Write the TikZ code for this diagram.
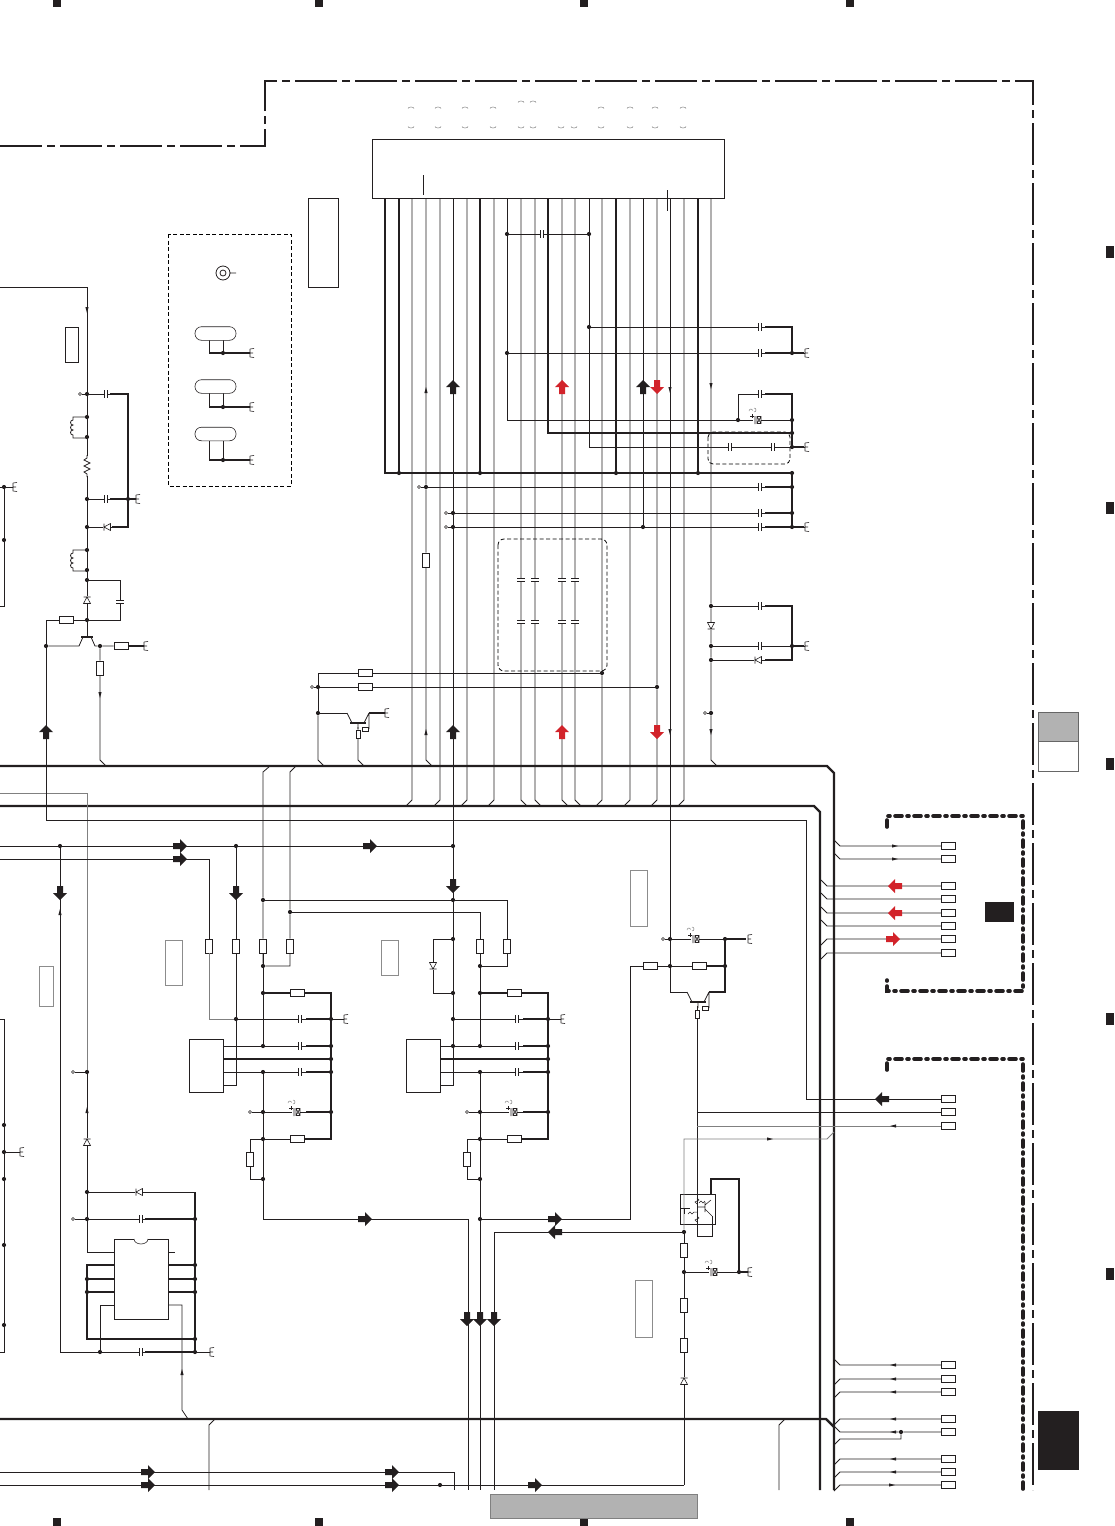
\documentclass[tikz,border=0pt]{standalone}
\usepackage{amsmath, amssymb}
\usetikzlibrary{arrows.meta}
\tikzset{>=stealth}
\definecolor{inkblack}{HTML}{231F20}
\definecolor{markred}{HTML}{D2232A}
\definecolor{panelgray}{HTML}{B2B2B2}
\tikzset{
	wire/.style = {line width = 0.8pt, color = inkblack},
	pale/.style = {line width = 0.8pt, color = black!50},
	thk/.style = {line width = 1.7pt, color = inkblack},
	busline/.style = {line width = 2.2pt, color = inkblack},
	jn/.style = {circle, fill = inkblack, inner sep = 0pt, minimum size = 4.2pt},
	opn/.style = {circle, draw = inkblack, fill = white, line width = 0.5pt, inner sep = 0pt, minimum size = 3pt},
	resh/.style = {draw = inkblack, fill = white, line width = 0.6pt, inner sep = 0pt, minimum width = 14pt, minimum height = 6.5pt},
	resv/.style = {draw = inkblack, fill = white, line width = 0.6pt, inner sep = 0pt, minimum width = 6.5pt, minimum height = 14pt},
	ress/.style = {draw = inkblack, fill = white, line width = 0.6pt, inner sep = 0pt, minimum width = 4pt, minimum height = 8pt},
	term/.style = {draw = inkblack, fill = white, line width = 0.6pt, inner sep = 0pt, minimum width = 13.5pt, minimum height = 7pt},
	blockbox/.style = {draw = inkblack, line width = 0.6pt, inner sep = 0pt},
	palebox/.style = {draw = black!45, line width = 0.6pt, inner sep = 0pt},
	framedash/.style = {line width = 1.3pt, color = inkblack, dash pattern = on 42pt off 5pt on 8pt off 5pt},
	shielddash/.style = {line width = 3.6pt, color = inkblack, line cap = round, dash pattern = on 7pt off 5pt on 2pt off 5pt},
	zonedash/.style = {line width = 0.8pt, color = black, dash pattern = on 4pt off 2.5pt},
	capn/.pic = {
		\fill[white] (-1.5,-1.5) rectangle (1.5,1.5);
		\draw[wire] (-1.5,-4) -- (-1.5,4) (1.5,-4) -- (1.5,4);
	},
	dioden/.pic = {
		\fill[white] (-4,-4) rectangle (4,4);
		\draw[wire, line width = 0.6pt] (-3.5,-3.5) -- (3,0) -- (-3.5,3.5) -- cycle (3,-3.5) -- (3,3.5);
	},
	pcapn/.pic = {
		\fill[white] (-4,-4) rectangle (4,4);
		\draw[wire, line width = 0.6pt] (-2,-4) -- (-2,4) (0,-3.5) rectangle (4,3.5) (0,-3.5) -- (4,3.5) (0,3.5) -- (4,-3.5);
		\draw[wire, line width = 0.5pt] (-7,-4) -- (-3,-4) (-5,-6) -- (-5,-2);
		\draw[pale, line width = 0.5pt] (-8,-9) arc (180:340:2) (-3,-12) arc (-90:90:2);
	},
	gndn/.pic = {
		\draw[wire, line width = 0.6pt] (0,-4) -- (0,4) (0,-4) -- (4,-4.5) (0,0) -- (3,0) (0,4) -- (4,4.5);
	},
	bigarr/.pic = {
		\fill[pic actions] (-7,-3) -- (0,-3) -- (0,-7) -- (7,0) -- (0,7) -- (0,3) -- (-7,3) -- cycle;
	},
	tinyarr/.pic = {
		\fill[inkblack] (-3,-1.6) -- (3,0) -- (-3,1.6) -- cycle;
	},
	npnn/.pic = {
		\fill[white] (-7,-1) rectangle (7,2);
		\draw[thk, line width = 1.4pt] (-8,0) -- (8,0);
		\draw[wire] (-11,-10) -- (-6,0) (11,-10) -- (6,0) (0,0) -- (0,6) (11,-10) -- (11,6);
		\draw[blockbox, fill = white] (4,4) rectangle (10,8);
	},
	coiln/.pic = {
		\draw[wire] (0,0) -- (-14,0) -- (-14,3) arc (-90:-270:2.5) arc (-90:-270:2.5) arc (-90:-270:2.5) -- (-14,21) -- (0,21);
	}
}

\begin{document}
\begin{tikzpicture}[x = 1pt, y = -1pt]
	\useasboundingbox (0,0) rectangle (1114,1526);
	\foreach \x in {57,319,584,850} {
		\fill[inkblack] (\x-4,0) rectangle (\x+4,7);
		\fill[inkblack] (\x-4,1518) rectangle (\x+4,1526);
	}
	\foreach \y in {252,508,764,1019,1274}
		\fill[inkblack] (1106,\y-6) rectangle (1114,\y+6);
	\node[blockbox, draw = black!60, fill = panelgray, minimum width = 40pt, minimum height = 29pt] (tabtop) at (1058,726.5) {};
	\node[blockbox, draw = black!60, minimum width = 40pt, minimum height = 30pt] (tabmid) at (1058,756) {};
	\node[blockbox, fill = inkblack, minimum width = 40pt, minimum height = 58pt] (tabdark) at (1058,1440) {};
	\node[blockbox, draw = black!50, fill = panelgray, minimum width = 207pt, minimum height = 24pt] (footer) at (593.5,1506) {};
	\node[blockbox, fill = inkblack, minimum width = 28pt, minimum height = 19pt] (shieldtag) at (999,911.5) {};

	\draw[framedash] (0,146) -- (265,146) -- (265,81) -- (1033,81) -- (1033,1490);
	\draw[shielddash] (887,827) -- (887,816) -- (1023,816) -- (1023,991) -- (887,991) -- (887,980);
	\draw[shielddash] (887,1070) -- (887,1059) -- (1023,1059) -- (1023,1490);

	\node[blockbox, minimum width = 352pt, minimum height = 59pt] (conn) at (548,168.5) {};
	\node[blockbox, minimum width = 30pt, minimum height = 89pt] (boxa) at (323,242.5) {};
	\node[blockbox, minimum width = 13pt, minimum height = 35pt] (boxb) at (71.5,344.5) {};
	\node[palebox, minimum width = 17pt, minimum height = 56pt] (boxc) at (638.5,898) {};
	\node[palebox, minimum width = 17pt, minimum height = 45pt] (boxd) at (173.5,962.5) {};
	\node[palebox, minimum width = 17pt, minimum height = 35pt] (boxe) at (389.5,957.5) {};
	\node[palebox, minimum width = 14pt, minimum height = 40pt] (boxf) at (46,986) {};
	\node[palebox, minimum width = 17pt, minimum height = 57pt] (boxg) at (643.5,1308.5) {};
	\draw[wire] (423,175) -- (423,195) (667,190) -- (667,211);
	\foreach \x in {411,438,465,493,601,630,655,683}
		\draw[pale, line width = 0.5pt] (\x-3,108.5) arc (180:360:3 and 1.5);
	\foreach \x in {521,533}
		\draw[pale, line width = 0.5pt] (\x-3,102.5) arc (180:360:3 and 1.5);
	\foreach \x in {411,438,465,493,521,533,561,574,601,630,655,683}
		\draw[pale, line width = 0.5pt] (\x-3,126.5) arc (180:0:3 and 1.5);

	\draw[zonedash] (168,234) rectangle (291,486);
	\draw[zonedash, rounded corners = 6pt] (498,539) rectangle (607,671);
	\draw[zonedash, rounded corners = 5pt] (708,432) rectangle (790,464);

	\foreach \x in {385,399,412,426,440,453,467,480,494,507,521,535,548,562,575,589,602,616,630,643,657,670,684,698,711}
		\coordinate (pin\x) at (\x,198);
	\foreach \x/\y in {87/394,87/417,87/437,87/499,87/527,87/550,87/570,87/580,87/620,100/646,46/646,4/487,4/540,4/1125,4/1152,4/1179,4/1245,4/1325,128/499,507/234,589/234,589/327,507/353,792/353,738/420,792/420,792/433,792/447,399/473,480/473,616/473,698/473,792/473,426/487,453/513,453/527,643/527,792/487,792/513,792/527,711/606,711/646,711/660,711/713,792/646,602/673,657/687,318/687,318/713,60/846,236/846,453/846,263/900,453/900,290/912,453/939,453/993,480/966,263/966,453/1046,670/939,670/966,725/939,725/966,87/1072,87/1192,87/1219,195/1219,87/1279,87/1292,195/1265,195/1279,195/1292,195/1339,100/1352,195/1352,480/1219,684/1232,684/1272,739/1272,440/1485,901/1432,223/353,223/407,223/460}
		\node[jn] (j\x-\y) at (\x,\y) {};
	\foreach \x/\y in {80/394,419/487,446/513,446/527,312/687,705/713,663/939,73/1072,73/1219}
		\node[opn] (o\x-\y) at (\x,\y) {};
	\foreach \x/\y in {426/560,209/946,236/946,263/946,290/946,480/946,507/946,100/668,684/1250,684/1305,684/1345}
		\node[resv] (r\x-\y) at (\x,\y) {};
	\foreach \x/\y in {66/620,121/646,365/673,365/687,650/966,699/966}
		\node[resh] (r\x-\y) at (\x,\y) {};
	\node[ress] (r358-734) at (358,734) {};
	\node[ress] (r697-1014) at (697,1014) {};
	\foreach \y in {846,859,886,899,913,926,939,953,1099,1112,1126,1365,1379,1392,1419,1432,1459,1472,1485}
		\node[term] (t\y) at (948.5,\y) {};
	\node[blockbox, minimum width = 54pt, minimum height = 80pt] (icdip) at (141,1279) {};
	\node[blockbox, minimum width = 35pt, minimum height = 30pt] (opto) at (697.5,1209) {};

	\draw[busline] (0,766) -- (827,766) -- (834,773) -- (834,1490);
	\draw[busline] (0,806) -- (814,806) -- (820,812) -- (820,1490);
	\draw[busline] (0,1419) -- (826,1419) -- (834,1427);
	\draw[pale] (0,793) -- (87,793) -- (j87-1072);
	\draw[wire] (o73-1072) -- (j87-1072) -- (87,1192);
	\draw[wire] (j87-1192) -- (j87-1219) -- (87,1252) -- (114,1252);

	\foreach \x/\d in {412/-6,440/-6,467/-6,494/-6,521/6,535/6,562/6,575/6,630/-6,684/-6}
		\draw[wire] (pin\x) -- (\x,800) -- ++(\d,6);
	\draw[wire] (pin602) -- (j602-673) -- (602,800) -- ++(-6,6);
	\draw[wire] (pin657) -- (j657-687) -- (657,800) -- ++(-6,6);
	\draw[wire] (pin426) -- (j426-487) -- (r426-560) -- (426,760) -- ++(6,6);
	\draw[wire] (pin453) -- (j453-513) -- (j453-527) -- (j453-846) -- (j453-900) -- (j453-939);
	\draw[thk] (pin385) |- (j792-473);
	\foreach \x in {399,480,616,698}
		\draw[thk] (pin\x) -- (j\x-473);
	\draw[wire] (pin507) -- (j507-234) -- (j507-353) |- (j792-420);
	\draw[wire] (j507-234) -- (j589-234);
	\draw[thk] (pin548) |- (j792-433);
	\draw[wire] (pin589) -- (j589-234) -- (j589-327) |- (j792-447);
	\draw[wire] (pin643) -- (j643-527);
	\draw[wire] (pin670) -- (j670-939) -- (j670-966) -- (670,992) -- (687,992);
	\draw[wire] (pin711) -- (j711-606) -- (j711-646) -- (j711-660) -- (j711-713) -- (711,760) -- ++(6,6);
	\draw[wire] (j589-327) -| (j792-353);
	\draw[thk] (765,327) -| (j792-353);
	\draw[wire] (j507-353) -- (j792-353) -- (805,353);
	\draw[thk] (765,353) -- (j792-353);
	\draw[wire] (j738-420) -- (738,394) -- (792,394);
	\draw[thk] (765,394) -| (j792-420);
	\draw[thk] (j792-420) -- (j792-433) -- (j792-447);
	\draw[wire] (j792-447) -- (805,447);
	\draw[wire] (o419-487) -- (j426-487) -- (j792-487);
	\draw[wire] (o446-513) -- (j453-513) -- (j792-513);
	\draw[wire] (o446-527) -- (j453-527) -- (j643-527) -- (j792-527) -- (805,527);
	\foreach \y in {487,513,527}
		\draw[thk] (765,\y) -- (j792-\y);
	\draw[thk] (j792-473) -- (j792-487) -- (j792-513) -- (j792-527);
	\draw[wire] (j711-606) -- (792,606);
	\draw[thk] (765,606) -| (j792-646);
	\draw[wire] (j711-646) -- (j792-646) -- (805,646);
	\draw[wire] (j711-660) -- (765,660);
	\draw[thk] (765,660) -| (j792-646);
	\draw[wire] (o705-713) -- (j711-713);
	\foreach \x/\y/\e in {792/353/804,792/447/804,792/527/804,792/646/804}
		\draw[thk, line width = 1.2pt] (j\x-\y) -- (\e,\y);

	\draw[wire] (j318-713) -- (318,673) -- (r365-673) -- (j602-673);
	\draw[wire] (o312-687) -- (j318-687) -- (r365-687) -- (j657-687);
	\draw[wire] (j318-713) -- (318,760) -- ++(6,6);
	\draw[wire] (j318-713) -- (347,713);
	\draw[thk, line width = 1.2pt] (369,713) -- (385,713);
	\draw[wire] (358,727) -- (r358-734) -- (358,760) -- ++(6,6);

	\draw[wire] (0,287) -- (87,287) -- (j87-394);
	\draw[wire] (o80-394) -- (j87-394) -- (j87-417) -- (j87-437) -- (j87-499) -- (j87-527) -- (j87-550) -- (j87-570) -- (j87-580) -- (j87-620);
	\draw[wire] (j87-394) -- (128,394);
	\draw[thk, line width = 1.2pt] (110,394) -| (j128-499) -- (128,527) -- (112,527);
	\draw[wire] (j87-499) -- (j128-499) -- (136,499);
	\draw[thk, line width = 1.2pt] (110,499) -- (136,499);
	\draw[wire] (j87-527) -- (112,527);
	\draw[wire] (j87-580) -- (120,580) -- (120,620) -- (j87-620);
	\draw[wire] (j87-620) -- (r66-620) -| (j46-646);
	\draw[wire] (j87-620) -- (87,637);
	\draw[wire] (j46-646) -- (79,646) -- (83,637);
	\draw[thk, line width = 1.2pt] (81,637) -- (93,637);
	\draw[wire] (91,637) -- (95,646) -- (j100-646) -- (r121-646);
	\draw[thk, line width = 1.2pt] (r121-646) -- (144,646);
	\draw[wire] (j100-646) -- (r100-668) -- (100,760) -- ++(6,6);
	\draw[wire] (j46-646) -- (46,820) -- (806,820) -- (806,1099) -- (t1099);

	\draw[wire] (0,487) -- (13,487) (0,606) -- (4,606) -- (j4-540) -- (j4-487);
	\draw[wire] (0,1019) -- (4,1019) -- (4,1352) -- (0,1352);
	\draw[wire] (j4-1152) -- (20,1152);

	\foreach \y/\a/\b in {353/340/209,407/393/209,460/441/209} {
		\draw[wire] (223,\a) -- (j223-\y) (209,\a) -- (209,\y);
		\draw[thk] (209,\y) -- (j223-\y) -- (250,\y);
	}
	\foreach \y in {333.5,386.5,434}
		\draw[blockbox, fill = white, rounded corners = 6.5pt] (195,\y-6.8) rectangle (236,\y+6.8);
	\draw[wire] (223,273) circle (7pt) (223,273) circle (3pt) (230,273) -- (236,273);

	\draw[wire] (0,846) -- (j60-846) -- (j236-846) -- (j453-846);
	\draw[wire] (0,859) -- (209,859) -- (r209-946);
	\draw[wire] (j60-846) -- (60,1352) -- (j100-1352) -- (j195-1352) -- (210,1352);
	\draw[wire] (j236-846) -- (r236-946);
	\draw[wire] (270,766) -- (263,772) -- (j263-900) -- (r263-946) -- (j263-966);
	\draw[wire] (296,766) -- (290,772) -- (j290-912) -- (r290-946) -- (290,966) -- (j263-966);
	\draw[wire] (j263-900) -- (j453-900) -- (507,900) -- (r507-946) -- (507,966) -- (j480-966);
	\draw[wire] (j290-912) -- (480,912) -- (r480-946) -- (j480-966);

	\foreach \n/\dx in {a/0,b/217} {
		\begin{scope}[xshift = \dx]
			\node[blockbox, minimum width = 34pt, minimum height = 53pt] (\n box) at (206,1065.5) {};
			\foreach \c/\x/\y in {d1/236/1019,d2/263/993,d3/263/1046,d4/263/1072,d5/263/1112,d6/263/1139,d7/263/1179,d8/331/1019,d9/331/1046,d10/331/1059,d11/331/1072,d12/331/1112}
				\node[jn] (\n\c) at (\x,\y) {};
			\node[resh] (\n res1) at (297,993) {};
			\node[resh] (\n res2) at (297,1139) {};
			\node[resv] (\n res3) at (250,1159) {};
			\node[opn] (\n o1) at (250,1112) {};
			\coordinate (\n pin1) at (223,1046);
			\coordinate (\n pin2) at (223,1059);
			\coordinate (\n pin3) at (223,1072);
			\coordinate (\n pin4) at (223,1085);
			\draw[wire] (\n d2) -- (\n d3);
			\draw[wire] (\n d4) -- (\n d5) -- (\n d6) -- (\n d7);
			\draw[wire] (\n pin1) -- (\n d3) -- (\n d9);
			\draw[wire] (\n pin3) -- (\n d4) -- (\n d11);
			\draw[thk] (\n pin2) -- (\n d10);
			\draw[wire] (\n pin4) -| (\n d1);
			\draw[wire] (\n d1) -- (\n d8) -- (344,1019);
			\draw[thk] (\n d2) -- (\n res1) -| (\n d8) -- (\n d9) -- (\n d10) -- (\n d11) -- (\n d12) |- (\n res2);
			\draw[wire] (\n res2) -- (\n d6) -- (250,1139) -- (\n res3) |- (\n d7);
			\draw[wire] (\n o1) -- (\n d5) -- (\n d12);
			\foreach \y in {1019,1046,1072,1112}
				\draw[thk] (306,\y) -- (331,\y);
			\foreach \y in {1019,1046,1072}
				\pic at (300,\y) {capn};
			\pic at (296,1112) {pcapn};
			\pic at (344,1019) {gndn};
		\end{scope}
	}
	\draw[wire] (r263-946) -- (j263-966) -- (ad2);
	\draw[pale] (r209-946) -- (209,1019) -- (ad1);
	\draw[wire] (r236-946) -- (ad1);
	\draw[wire] (ad7) -- (263,1219) -- (468,1219) -- (468,1490);
	\draw[wire] (j453-939) -- (j453-993) -- (bd1) -- (j453-1046) -- (453,1085);
	\draw[wire] (j453-939) -| (433,993) -- (j453-993);
	\draw[wire] (j480-966) -- (bd2);
	\draw[wire] (bd7) -- (j480-1219) -- (480,1490);
	\draw[wire] (j480-1219) -- (630,1219) -- (630,966) -- (r650-966) -- (j670-966) -- (r699-966) -- (j725-966);
	\draw[thk] (r699-966) -- (j725-966);
	\draw[wire] (j670-939) -- (j725-939);
	\draw[thk, line width = 1.2pt] (j725-939) -- (746,939);
	\draw[wire] (o663-939) -- (j670-939);
	\draw[thk] (j725-939) -- (j725-966) -- (725,992) -- (709,992);
	\draw[wire] (697,1006) -- (r697-1014) -- (697,1194);
	\draw[wire] (697,1112) -- (t1112);
	\draw[pale] (697,1126) -- (t1126);
	\draw[pale] (834,1132) -- (827,1139) -- (684,1139) -- (j684-1232);
	\draw[wire] (j684-1232) -- (494,1232) -- (494,1490);
	\draw[wire] (j684-1232) -- (r684-1250) -- (j684-1272) -- (r684-1305) -- (r684-1345) -- (684,1485);
	\draw[wire] (j684-1272) -- (j739-1272);
	\draw[thk, line width = 1.2pt] (j739-1272) -- (748,1272);
	\draw[thk] (711,1194) -- (711,1179) -- (739,1179) -- (j739-1272);
	\draw[wire] (0,1485) -- (j440-1485) -- (684,1485);
	\draw[wire] (0,1472) -- (454,1472) -- (454,1490);
	\draw[wire] (215,1419) -- (209,1425) -- (209,1490);
	\draw[wire] (785,1419) -- (779,1425) -- (779,1490);

	\draw[wire] (o73-1219) -- (j87-1219) -- (j195-1219);
	\draw[wire] (j87-1192) -- (195,1192);
	\draw[thk, line width = 1.2pt] (195,1192) -- (j195-1219) -- (j195-1265) -- (j195-1279) -- (j195-1292) -- (j195-1339) -- (j195-1352);
	\draw[thk] (145,1219) -- (j195-1219);
	\draw[thk] (145,1352) -- (j195-1352);
	\draw[thk] (114,1265) -- (87,1265) -- (j87-1279) -- (j87-1292) -- (87,1339) -- (j195-1339);
	\draw[thk] (j87-1279) -- (114,1279) (j87-1292) -- (114,1292);
	\draw[thk] (168,1265) -- (j195-1265) (168,1279) -- (j195-1279) (168,1292) -- (j195-1292);
	\draw[wire] (168,1252) -- (175,1252);
	\draw[wire] (j100-1352) -- (100,1305) -- (114,1305);
	\draw[wire] (168,1305) -- (182,1305) -- (182,1410) -- (188,1419);
	\fill[white] (134,1237.5) rectangle (148,1240);
	\draw[wire, line width = 0.6pt] (134,1239) arc (180:0:7 and 5);

	\foreach \y in {846,859}
		\draw[wire] (834,\y-6) -- (840,\y) -- (t\y);
	\foreach \y in {886,899,913,926}
		\draw[wire] (821,\y-6) -- (827,\y) -- (t\y);
	\foreach \y in {939,953}
		\draw[wire] (821,\y+6) -- (827,\y) -- (t\y);
	\draw[wire] (834,1359) -- (840,1365) -- (t1365);
	\foreach \y in {1379,1392,1419,1459,1472,1485}
		\draw[wire] (834,\y+6) -- (840,\y) -- (t\y);
	\draw[wire] (827,1419) -- (840,1432) -- (j901-1432) -- (t1432);
	\draw[wire] (834,1445) -- (840,1439) -- (901,1439) -- (j901-1432);

	\draw[wire, line width = 0.6pt] (697,1194) -- (697,1236) -- (712,1236) -- (712,1216);
	\draw[wire, line width = 0.6pt] (697,1207) -- (705,1207) (705,1202) -- (705,1212) (705,1205) -- (711,1200) (705,1209) -- (712,1216);
	\draw[wire, line width = 0.6pt] (681,1208) -- (690,1208) (684,1208) -- (684,1214);
	\draw[wire, line width = 0.5pt] (697,1198) -- (699,1200) -- (695,1202) -- (697,1204);
	\draw[wire, line width = 0.5pt] (699,1203) -- (701,1201) -- (703,1203) -- (705,1201);
	\draw[wire, line width = 0.5pt] (697,1216) -- (699,1218) -- (695,1220) -- (697,1222);
	\draw[wire, line width = 0.5pt] (688,1214) -- (690,1212) -- (692,1214) -- (694,1212) -- (697,1212);

	\fill[white] (86,456) rectangle (88,476);
	\draw[wire] (87,455) -- (87,458) -- (84,460) -- (90,463) -- (84,466) -- (90,469) -- (84,472) -- (87,474) -- (87,477);

	\pic at (87,417) {coiln};
	\pic at (87,550) {coiln};
	\foreach \x/\y in {106/394,106/499,141/1219,141/1352,760/327,760/353,760/394,760/487,760/513,760/527,760/606,760/646,542/234,730/447,773/447}
		\pic at (\x,\y) {capn};
	\foreach \x/\y in {521/580,535/580,562/580,575/580,521/622,535/622,562/622,575/622,120/602}
		\pic[rotate = 90] at (\x,\y) {capn};
	\pic[rotate = 90] at (87,600) {dioden};
	\pic[rotate = -90] at (711,626) {dioden};
	\pic[rotate = 180] at (758,660) {dioden};
	\pic[rotate = -90] at (433,966) {dioden};
	\pic[rotate = 90] at (684,1381) {dioden};
	\pic[rotate = 90] at (87,1142) {dioden};
	\pic[rotate = 180] at (139,1192) {dioden};
	\pic[rotate = 180] at (107,527) {dioden};
	\pic at (757,420) {pcapn};
	\pic at (695,939) {pcapn};
	\pic at (713,1272) {pcapn};
	\pic at (358,723) {npnn};
	\pic at (698,1002) {npnn};
	\foreach \x/\y in {805/353,805/447,805/527,805/646,136/499,13/487,20/1152,250/353,250/407,250/460,144/646,385/713,748/939,748/1272,210/1352}
		\pic at (\x,\y) {gndn};

	\foreach \x/\y/\r in {453/387/90,643/387/90,453/732/90,46/732/90,60/893/-90,236/893/-90,453/886/-90,467/1319/-90,480/1319/-90,494/1319/-90,180/846/0,180/859/0,370/846/0,365/1219/0,555/1219/0,555/1232/180,882/1099/180,148/1472/0,148/1485/0,392/1472/0,392/1485/0,535/1485/0}
		\pic[fill = inkblack, rotate = \r] at (\x,\y) {bigarr};
	\foreach \x/\y/\r in {562/387/90,657/387/-90,562/732/90,657/732/-90,895/886/180,895/913/180,893/939/0}
		\pic[fill = markred, rotate = \r] at (\x,\y) {bigarr};
	\foreach \x/\y/\r in {426/390/90,426/732/90,670/390/-90,670/732/-90,711/386/-90,711/732/-90,87/310/-90,100/695/-90,60/912/90,87/1110/90,182/1372/90,895/846/0,895/859/0,893/1126/180,770/1139/0,893/1365/180,893/1379/180,893/1392/180,893/1419/180,893/1432/180,893/1459/180,893/1472/180,892/1485/0}
		\pic[rotate = \r] at (\x,\y) {tinyarr};
\end{tikzpicture}
\end{document}
